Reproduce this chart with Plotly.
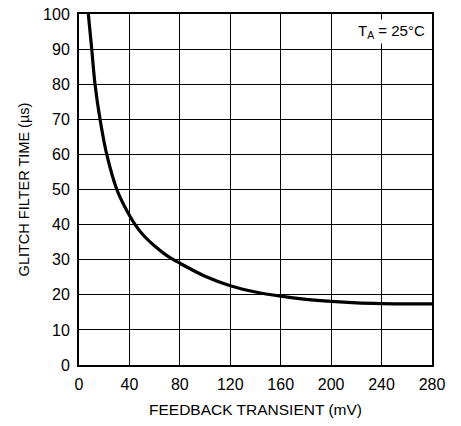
import plotly.graph_objects as go

transient_mv = [7.4, 10.1, 12.7, 16.7, 22, 30, 36, 44.5, 52, 60, 70, 80, 100, 120, 140, 160, 180, 200, 220, 240, 260, 280]
glitch_us = [100, 90, 80, 70, 60, 50, 45.3, 40, 36.6, 33.9, 31.1, 29.0, 25.3, 22.6, 20.8, 19.6, 18.7, 18.1, 17.7, 17.5, 17.4, 17.4]

x_ticks = [0, 40, 80, 120, 160, 200, 240, 280]
y_ticks = [0, 10, 20, 30, 40, 50, 60, 70, 80, 90, 100]

font_fam = "Liberation Sans, Arial, sans-serif"

fig = go.Figure()
fig.add_trace(go.Scatter(
    x=transient_mv, y=glitch_us, mode="lines",
    line=dict(color="black", width=3.2, shape="spline", smoothing=1.0),
    showlegend=False, hoverinfo="skip",
))

fig.update_layout(
    width=461, height=426,
    margin=dict(l=79, r=29, t=14, b=61),
    paper_bgcolor="white", plot_bgcolor="white",
    font=dict(family=font_fam, color="black", size=16),
    xaxis=dict(
        range=[0, 280], tickvals=x_ticks, ticktext=[str(v) for v in x_ticks],
        showgrid=True, gridcolor="black", gridwidth=1,
        showline=True, linecolor="black", linewidth=2, mirror=True,
        zeroline=False, ticks="", tickfont=dict(size=16), automargin=False,
        ticklabelstandoff=4,
        title=dict(text="FEEDBACK TRANSIENT (mV)", font=dict(size=15.5), standoff=12),
    ),
    yaxis=dict(
        range=[0, 100], tickvals=y_ticks, ticktext=[str(v) for v in y_ticks],
        showgrid=True, gridcolor="black", gridwidth=1,
        showline=True, linecolor="black", linewidth=2, mirror=True,
        zeroline=False, ticks="", tickfont=dict(size=16), automargin=False,
        ticklabelstandoff=4,
        title=dict(text="GLITCH FILTER TIME (µs)", font=dict(size=14.5), standoff=10),
    ),
    annotations=[dict(
        x=0.99, y=0.985, xref="paper", yref="paper", xanchor="right", yanchor="top",
        text="T<sub>A</sub> = 25°C", showarrow=False, bgcolor="white",
        font=dict(size=15, family=font_fam), borderpad=2,
    )],
)

fig.write_html("out.html", config={"displayModeBar": False},
               post_script="document.body.style.margin='0';")
